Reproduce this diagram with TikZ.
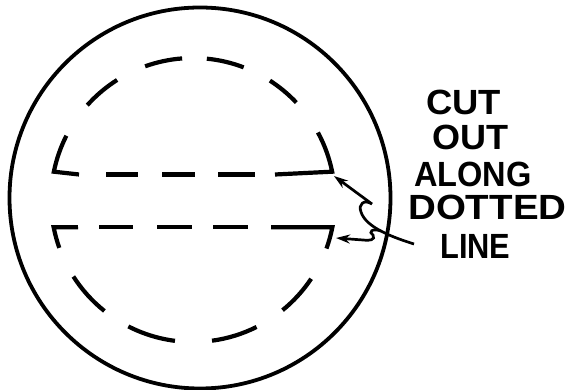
\documentclass[tikz,border=0pt]{standalone}
\usepackage{fontspec}
\newfontfamily\lab{Liberation Sans Bold}
\usetikzlibrary{arrows.meta,calc}
\tikzset{
  x=1pt,y=1pt,
  rim/.style={line width=3.8pt},
  cutline/.style={line width=4.2pt},
  leader/.style={line width=2.7pt,-{Stealth[length=14pt,width=9pt]}},
  lbl/.style={anchor=base west,inner sep=0pt,font=\lab\fontsize{35}{35}\selectfont}
}
\begin{document}
\begin{tikzpicture}
\useasboundingbox (0,0) rectangle (569,390);
\coordinate (o) at (200,192);
\coordinate (c) at (193,190);
% outer circle
\draw[rim] (o) circle[radius=190.5pt];
% dashed inner circle, piece by piece
\foreach \a/\b in {109.7/94.4, 84.4/69.1, 138.1/122.3, 57.2/43.3,
                   212.6/231.4, -50.9/-33.7, 242.9/262.7, 277.7/296.6}
  \draw[cutline] ($(c)+(\a:142pt)$) arc[start angle=\a, end angle=\b, radius=142pt];
% corner pieces with the strip lines
\draw[cutline] ($(c)+(153.1:142pt)$) arc[start angle=153.1, end angle=168.5, radius=142pt] -- (79,215.5);
\draw[cutline] (275,215.5) -- ($(c)+(11.5:142pt)$) arc[start angle=11.5, end angle=28.4, radius=142pt];
\draw[cutline] ($(c)+(199.7:142pt)$) arc[start angle=199.7, end angle=191.1, radius=142pt] -- (78,162.8);
\draw[cutline] (271,162.8) -- ($(c)+(-11.1:142pt)$) arc[start angle=-11.1, end angle=-20, radius=142pt];
% strip dashes
\foreach \p/\q in {106/138, 162/195, 218/255}
  \draw[cutline] (\p,215.5) -- (\q,215.5);
\foreach \p/\q in {99/133, 157/192, 213/248}
  \draw[cutline] (\p,162.8) -- (\q,162.8);
% label
\node[lbl] (l1) at (426,275) {\scalebox{1.04}[1]{CUT}};
\node[lbl] (l2) at (432,240) {\scalebox{1.03}[1]{OUT}};
\node[lbl] (l3) at (414,203) {\scalebox{0.93}[1]{ALONG}};
\node[lbl] (l4) at (408,170) {\scalebox{1.1}[1]{DOTTED}};
\node[lbl] (l5) at (440,131) {\scalebox{0.88}[1]{LINE}};
% leaders
\coordinate (e) at (414,146);
\coordinate (t1) at (334,214);
\coordinate (j) at (381,159);
\coordinate (t2) at (336,152);
\draw[leader] (e) .. controls (395,152) and (366,162) .. (361,178)
   .. controls (358,186) and (364,191) .. (372,186) -- (t1);
\draw[leader] (j) .. controls (372,162) and (368,158) .. (373,155)
   .. controls (376,150) and (369,149) .. (363,150) -- (t2);
\end{tikzpicture}
\end{document}
